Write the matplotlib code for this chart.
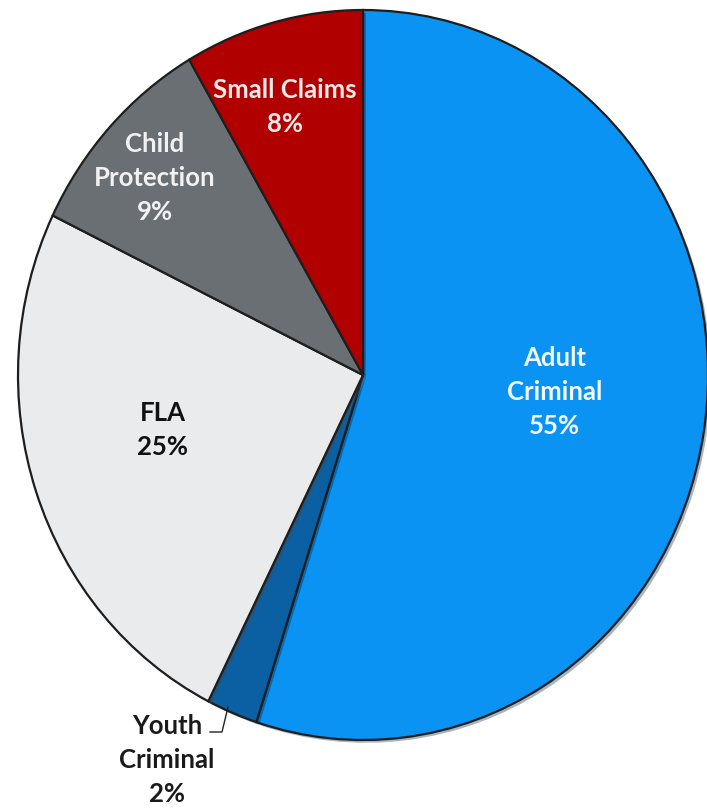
import matplotlib
matplotlib.use("Agg")
import matplotlib.pyplot as plt
from matplotlib import patheffects as pe

# ---- data ----
categories = ["Adult Criminal", "Youth Criminal", "FLA", "Child Protection", "Small Claims"]
values = [55.0, 2.4, 24.8, 9.4, 8.4]
label_texts = ["Adult\nCriminal\n55%", "Youth\nCriminal\n2%", "FLA\n25%",
               "Child\nProtection\n9%", "Small Claims\n8%"]
colors = ["#0A93F2", "#0B5FA3", "#E9EBED", "#6A6F74", "#B00000"]
text_colors = ["#F2F8FF", "#1A1A1A", "#111111", "#F2F2F2", "#F8E8E8"]

W, H = 707, 808
fig = plt.figure(figsize=(W / 100, H / 100), dpi=100)
ax = fig.add_axes([0, 0, 1, 1])

cx, cy, rx, ry = 363, 375, 345, 365  # pixel geometry of the pie


def px(x, y):
    return (x - cx) / rx, (cy - y) / ry


wedges, _ = ax.pie(values, colors=colors, startangle=90, counterclock=False,
                   radius=1.0, center=(0, 0),
                   wedgeprops=dict(edgecolor="#1E1E1E", linewidth=1.6))
for w in wedges:
    w.set_path_effects([pe.SimplePatchShadow(offset=(2, -2), alpha=0.35), pe.Normal()])

ax.set_aspect("auto")
ax.set_xlim(px(0, 0)[0], px(W, 0)[0])
ax.set_ylim(px(0, H)[1], px(0, 0)[1])
ax.axis("off")

label_pos = [(555, 392), (167, 760), (163, 430), (155, 178), (285, 107)]
for txt, (x, y), c in zip(label_texts, label_pos, text_colors):
    X, Y = px(x, y)
    ax.text(X, Y, txt, ha="center", va="center", color=c, fontsize=18.5,
            fontweight="bold", family=["Lato", "DejaVu Sans"], linespacing=1.5)

# leader line for Youth Criminal
lx = [px(210, 732)[0], px(222, 732)[0], px(228, 707)[0]]
ly = [px(210, 732)[1], px(222, 732)[1], px(228, 707)[1]]
ax.plot(lx, ly, color="#222222", lw=1.0)

fig.savefig("out.png", dpi=100, facecolor="white")
